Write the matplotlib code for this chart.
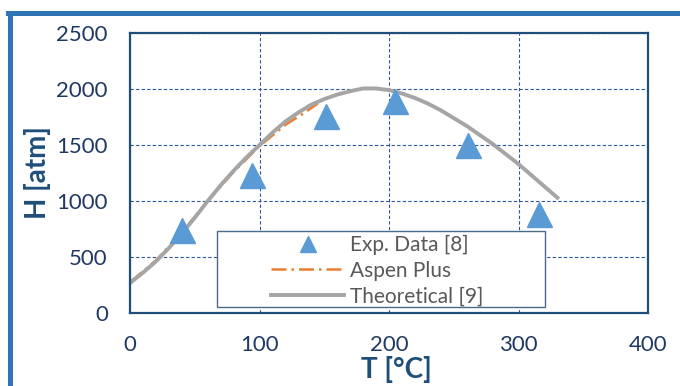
import matplotlib.pyplot as plt
from matplotlib.lines import Line2D
from matplotlib.patches import Rectangle

# experimental points
exp_T = [40, 94, 151, 205, 261, 316]
exp_H = [745, 1230, 1755, 1895, 1500, 885]

# Aspen Plus curve
aspen_T = [0, 20, 40, 60, 80, 100, 120, 135, 145]
aspen_H = [275, 470, 720, 1000, 1260, 1490, 1680, 1790, 1870]

# theoretical curve
theo_T = [0, 10, 20, 30, 40, 50, 60, 70, 80, 90, 100, 110, 120, 130, 140, 150, 160, 170,
          180, 190, 200, 210, 220, 230, 240, 250, 260, 270, 280, 290, 300, 310, 320, 330]
theo_H = [268, 360, 460, 580, 710, 850, 1000, 1140, 1270, 1390, 1500, 1610, 1710, 1790, 1860, 1910, 1950, 1980,
          2005, 2005, 1990, 1960, 1920, 1870, 1810, 1740, 1670, 1590, 1510, 1420, 1330, 1230, 1130, 1030]

plt.rcParams['font.family'] = ['Lato', 'DejaVu Sans']

fig = plt.figure(figsize=(6.8, 3.86), dpi=100, facecolor='white')
ax = fig.add_axes([130/680, 1 - 313/386, 518/680, 280/386])

# blue frame round the chart
fig.add_artist(Line2D([10/680, 10/680], [0, 1 - 13/386], color='#2E75B6', lw=3.6))
fig.add_artist(Line2D([8/680, 1], [1 - 13/386, 1 - 13/386], color='#2E75B6', lw=3.6))

ax.plot(theo_T, theo_H, color='#A5A5A5', lw=2.8, label='Theoretical [9]', zorder=2)
ax.plot(aspen_T, aspen_H, color='#ED7D31', lw=1.8, ls=(0, (6, 2, 1, 2)), label='Aspen Plus', zorder=1.9)
ax.plot(exp_T, exp_H, ls='none', marker='^', ms=18, color='#5B9BD5', label='Exp. Data [8]', zorder=3)

ax.set_xlim(0, 400)
ax.set_ylim(0, 2500)
ax.set_xticks([0, 100, 200, 300, 400])
ax.set_yticks([0, 500, 1000, 1500, 2000, 2500])
ax.grid(True, color='#2F5597', ls=(0, (3, 2)), lw=0.8)
ax.set_axisbelow(True)
for s in ax.spines.values():
    s.set_color('#1F4E79')
    s.set_linewidth(1.6)
ax.tick_params(length=0, labelsize=16, labelcolor='#203864')
ax.tick_params(axis='x', pad=16)
ax.tick_params(axis='y', pad=16)

ax.set_xlabel('T [°C]', fontsize=20, fontweight='bold', color='#1F4E79')
ax.set_ylabel('H [atm]', fontsize=20, fontweight='bold', color='#1F4E79')
ax.xaxis.set_label_coords(0.515, -0.155)
ax.yaxis.set_label_coords(-0.152, 0.5)

# legend box
box = Rectangle((0.168, 0.021), 0.633, 0.272, transform=ax.transAxes,
                facecolor='white', edgecolor='#4A6A8A', lw=1.0, zorder=4)
ax.add_patch(box)

handles, labels = ax.get_legend_handles_labels()
order = [2, 1, 0]
leg = ax.legend([handles[i] for i in order], [labels[i] for i in order],
                loc='upper left', bbox_to_anchor=(0.265, 0.294), frameon=False,
                fontsize=15, handlelength=3.5, handletextpad=0.25, labelspacing=0.27,
                borderpad=0.2, borderaxespad=0)
leg.set_zorder(5)
for t in leg.get_texts():
    t.set_color('#595959')
leg.legend_handles[0].set_markersize(12)

fig.savefig('out.png', dpi=100)
